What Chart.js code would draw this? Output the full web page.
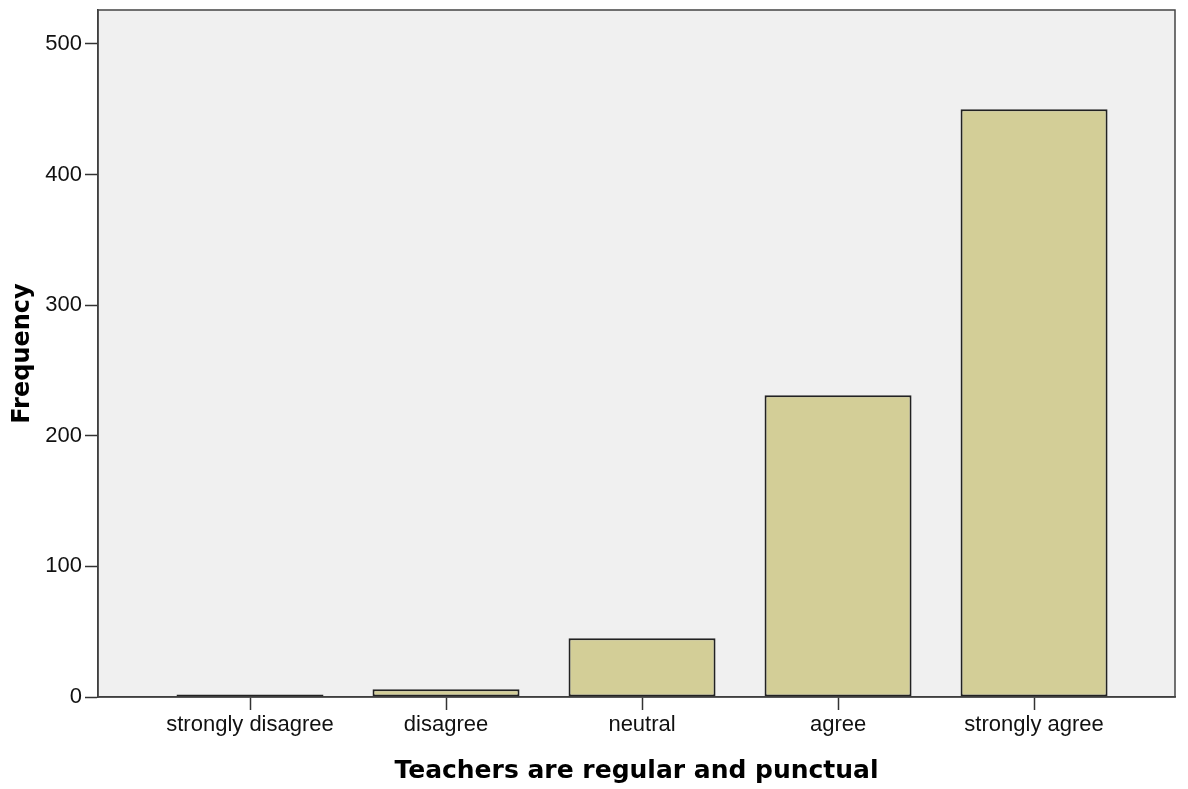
<!DOCTYPE html>
<html>
<head>
<meta charset="utf-8">
<title>Teachers are regular and punctual</title>
<script src="https://cdn.jsdelivr.net/npm/chart.js@4"></script>
<style>
    html, body { margin: 0; padding: 0; background: #ffffff; }
    #wrap { width: 1188px; height: 789px; }
</style>
</head>
<body>
<div id="wrap"><canvas id="chart" width="1188" height="789"></canvas></div>
<script>
// values
const categories = ['strongly disagree', 'disagree', 'neutral', 'agree', 'strongly agree'];
const frequencies = [2, 6, 45, 231, 450];
const yTicks = [0, 100, 200, 300, 400, 500];

const xTitle = 'Teachers are regular and punctual';
const yTitle = 'Frequency';

// plot background + frame like SPSS
const plotFrame = {
    id: 'plotFrame',
    beforeDraw(chart) {
        const { ctx, chartArea: a } = chart;
        ctx.save();
        ctx.fillStyle = '#f0f0f0';
        ctx.fillRect(a.left, a.top, a.right - a.left, a.bottom - a.top);
        ctx.restore();
    },
    afterDraw(chart) {
        const { ctx, chartArea: a } = chart;
        ctx.save();
        ctx.strokeStyle = '#444444';
        ctx.lineWidth = 1.5;
        ctx.strokeRect(a.left, a.top, a.right - a.left, a.bottom - a.top);
        ctx.restore();
    }
};

const ctx = document.getElementById('chart').getContext('2d');
new Chart(ctx, {
    type: 'bar',
    data: {
        datasets: [{
            label: yTitle,
            data: categories.map((c, i) => ({ x: i, y: frequencies[i] })),
            backgroundColor: '#d3ce97',
            borderColor: '#222222',
            borderWidth: 2,
            borderSkipped: false,
            categoryPercentage: 1,
            barPercentage: 0.75
        }]
    },
    options: {
        responsive: false,
        animation: false,
        layout: { padding: { top: 10, right: 13, left: 0, bottom: 0 } },
        plugins: {
            legend: { display: false },
            tooltip: { enabled: false }
        },
        scales: {
            x: {
                type: 'linear',
                offset: false,
                min: -0.7755,
                max: 4.719,
                afterBuildTicks: (scale) => {
                    scale.ticks = categories.map((c, i) => ({ value: i }));
                },
                afterFit: (scale) => {
                    scale.height = 92;
                    scale.paddingLeft = 0;
                    scale.paddingRight = 0;
                },
                ticks: {
                    callback: (value) => categories[value],
                    color: '#111111',
                    font: { family: 'Liberation Sans', size: 22 },
                    padding: 2,
                    maxRotation: 0,
                    autoSkip: false
                },
                grid: {
                    offset: false,
                    drawOnChartArea: false,
                    drawTicks: true,
                    tickLength: 13,
                    tickColor: '#333333',
                    tickWidth: 1.5
                },
                border: { display: true, color: '#333333', width: 1.5 },
                title: {
                    display: true,
                    text: xTitle,
                    color: '#000000',
                    font: { family: 'DejaVu Sans', size: 25, weight: 'bold' },
                    padding: { top: 0, bottom: 3 }
                }
            },
            y: {
                min: 0,
                max: 526,
                afterBuildTicks: (scale) => {
                    scale.ticks = yTicks.map(v => ({ value: v }));
                },
                afterFit: (scale) => {
                    scale.width = 98;
                    scale.paddingTop = 0;
                    scale.paddingBottom = 0;
                },
                ticks: {
                    color: '#111111',
                    font: { family: 'Liberation Sans', size: 22 },
                    padding: 3
                },
                grid: {
                    drawOnChartArea: false,
                    drawTicks: true,
                    tickLength: 13,
                    tickColor: '#333333',
                    tickWidth: 1.5
                },
                border: { display: true, color: '#333333', width: 1.5 },
                title: {
                    display: true,
                    text: yTitle,
                    color: '#000000',
                    font: { family: 'DejaVu Sans', size: 24, weight: 'bold' },
                    padding: { top: 8, bottom: 0 }
                }
            }
        }
    },
    plugins: [plotFrame]
});
</script>
</body>
</html>
